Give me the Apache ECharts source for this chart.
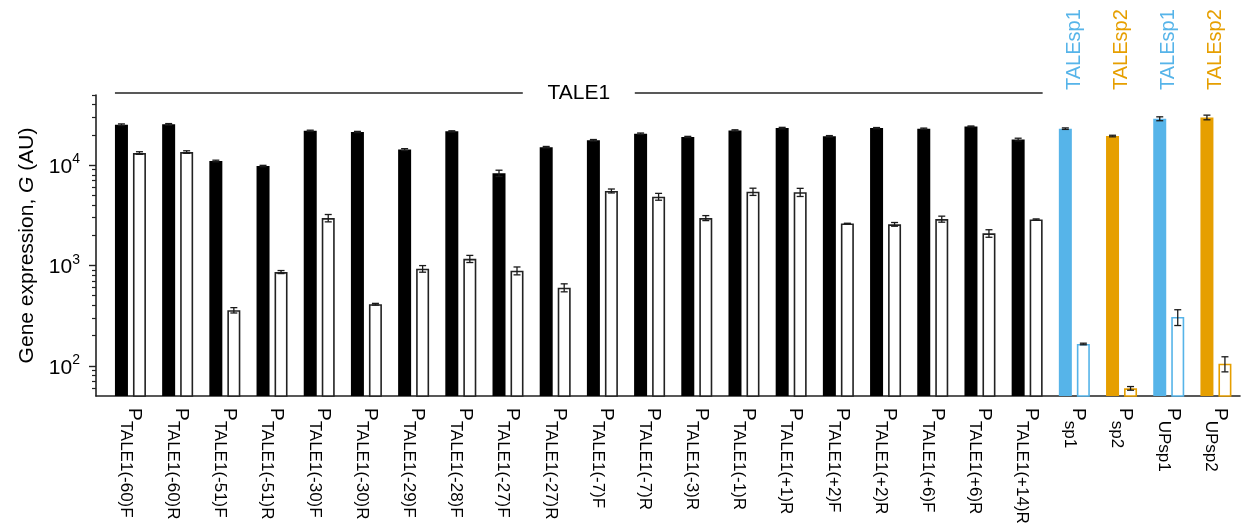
<!DOCTYPE html>
<html>
<head>
<meta charset="utf-8">
<script src="https://cdn.jsdelivr.net/npm/echarts@6/dist/echarts.min.js"></script>
<style>
  html, body { margin: 0; padding: 0; background: #ffffff; }
  #chart { width: 1248px; height: 529px; }
</style>
</head>
<body>
<div id="chart"></div>
<script>
// Promoter names (subscript of P) along the x axis
const promoters = [
  'TALE1(-60)F', 'TALE1(-60)R', 'TALE1(-51)F', 'TALE1(-51)R', 'TALE1(-30)F',
  'TALE1(-30)R', 'TALE1(-29)F', 'TALE1(-28)F', 'TALE1(-27)F', 'TALE1(-27)R',
  'TALE1(-7)F', 'TALE1(-7)R', 'TALE1(-3)R', 'TALE1(-1)R', 'TALE1(+1)R',
  'TALE1(+2)F', 'TALE1(+2)R', 'TALE1(+6)F', 'TALE1(+6)R', 'TALE1(+14)R',
  'sp1', 'sp2', 'UPsp1', 'UPsp2'
];
// TALE activator paired with each promoter
const activators = [
  'TALE1', 'TALE1', 'TALE1', 'TALE1', 'TALE1', 'TALE1', 'TALE1', 'TALE1', 'TALE1', 'TALE1',
  'TALE1', 'TALE1', 'TALE1', 'TALE1', 'TALE1', 'TALE1', 'TALE1', 'TALE1', 'TALE1', 'TALE1',
  'TALEsp1', 'TALEsp2', 'TALEsp1', 'TALEsp2'
];
// Expression with the activator present (filled bars) and its error
const withTale = [
  25300, 25500, 11000, 9800, 22000, 21400, 14300, 21700, 8300, 15100,
  17700, 20600, 19100, 22200, 23400, 19400, 23400, 23100, 24300, 18000,
  23100, 19500, 29000, 29900
];
const withTaleErr = [
  450, 450, 200, 150, 300, 300, 300, 300, 600, 250,
  300, 300, 250, 300, 400, 300, 300, 300, 250, 550,
  400, 350, 1300, 1600
];
// Expression without the activator (open bars) and its error
const withoutTale = [
  13200, 13500, 358, 860, 2970, 411, 927, 1165, 886, 601,
  5530, 4850, 2970, 5440, 5370, 2620, 2570, 2900, 2090, 2870,
  165, 59.6, 307, 105
];
const withoutTaleErr = [
  400, 400, 22, 30, 250, 8, 70, 95, 80, 55,
  250, 380, 170, 450, 500, 15, 110, 200, 180, 40,
  3, 2.5, 55, 18
];
// Y axis ticks
const decadeTicks = [100, 1000, 10000];
const minorTicks = [60, 70, 80, 90, 200, 300, 400, 500, 600, 700, 800, 900,
  2000, 3000, 4000, 5000, 6000, 7000, 8000, 9000, 20000, 30000, 40000, 50000];

const palette = { TALE1: '#000000', TALEsp1: '#56B4E9', TALEsp2: '#E69F00' };
const outline = { TALE1: '#222222', TALEsp1: '#56B4E9', TALEsp2: '#E69F00' };
const FONT = 'Liberation Sans, Arial, Helvetica, sans-serif';
const BAR_W = 13;
const BAR_GAP = 5;
const SHIFT = (BAR_W + BAR_GAP) / 2;
const X_MIN = -0.73, X_MAX = 23.51, Y_MIN = 50, Y_MAX = 50000;

function errorBars(side) {
  return function (params, api) {
    const x = api.value(0), v = api.value(1), e = api.value(2);
    const hi = api.coord([x, v + e]);
    const lo = api.coord([x, v - e]);
    const cx = hi[0] + side * SHIFT;
    const cap = 3.5;
    const st = { stroke: '#1a1a1a', lineWidth: 1.3 };
    return {
      type: 'group',
      children: [
        { type: 'line', shape: { x1: cx, y1: hi[1], x2: cx, y2: lo[1] }, style: st },
        { type: 'line', shape: { x1: cx - cap, y1: hi[1], x2: cx + cap, y2: hi[1] }, style: st },
        { type: 'line', shape: { x1: cx - cap, y1: lo[1], x2: cx + cap, y2: lo[1] }, style: st }
      ]
    };
  };
}

const taleFirst = activators.indexOf('TALE1');
const taleLast = activators.lastIndexOf('TALE1');

const chart = echarts.init(document.getElementById('chart'), null, { renderer: 'canvas' });
chart.setOption({
  animation: false,
  backgroundColor: '#ffffff',
  textStyle: { fontFamily: FONT },
  grid: { left: 96, right: 8, top: 95, bottom: 133, containLabel: false },
  xAxis: [
    {
      type: 'value', min: X_MIN, max: X_MAX, position: 'bottom',
      axisLine: { show: true, onZero: false, lineStyle: { color: '#222', width: 1.6 } },
      axisTick: { show: false },
      splitLine: { show: false },
      axisLabel: {
        customValues: promoters.map((_, i) => i),
        rotate: -90,
        margin: 12,
        formatter: (v) => '{p|P}{s|' + promoters[Math.round(v)] + '}',
        rich: {
          p: { fontSize: 19, fontFamily: FONT, color: '#000', verticalAlign: 'top', lineHeight: 27 },
          s: { fontSize: 17, fontFamily: FONT, color: '#000', verticalAlign: 'bottom', lineHeight: 27 }
        }
      }
    },
    {
      type: 'value', min: X_MIN, max: X_MAX, position: 'top',
      axisLine: { show: false, onZero: false },
      axisTick: { show: false },
      splitLine: { show: false },
      axisLabel: {
        customValues: activators.map((a, i) => (a === 'TALE1' ? -1 : i)).filter((i) => i >= 0),
        rotate: -90,
        margin: 5,
        formatter: (v) => {
          const a = activators[Math.round(v)];
          return '{' + (a === 'TALEsp1' ? 'b' : 'o') + '|' + a + '}';
        },
        rich: {
          b: { fontSize: 20, fontFamily: FONT, color: palette.TALEsp1 },
          o: { fontSize: 20, fontFamily: FONT, color: palette.TALEsp2 }
        }
      }
    }
  ],
  yAxis: [
    {
      type: 'log', logBase: 10, min: Y_MIN, max: Y_MAX, position: 'left',
      name: '{n|Gene expression, }{i|G}{n| (AU)}',
      nameLocation: 'middle',
      nameGap: 52,
      nameTextStyle: {
        rich: {
          n: { fontSize: 21, fontFamily: FONT, color: '#000' },
          i: { fontSize: 21, fontFamily: FONT, color: '#000', fontStyle: 'italic' }
        }
      },
      axisLine: { show: true, onZero: false, lineStyle: { color: '#222', width: 1.6 } },
      axisTick: { show: true, length: 7, customValues: decadeTicks, lineStyle: { color: '#222', width: 1.4 } },
      splitLine: { show: false },
      axisLabel: {
        customValues: decadeTicks,
        margin: 16,
        formatter: (v) => '{b|10}{s|' + Math.round(Math.log10(v)) + '}',
        rich: {
          b: { fontSize: 21, fontFamily: FONT, color: '#000', verticalAlign: 'bottom', lineHeight: 25 },
          s: { fontSize: 14, fontFamily: FONT, color: '#000', verticalAlign: 'top', lineHeight: 25 }
        }
      }
    },
    {
      type: 'log', logBase: 10, min: Y_MIN, max: Y_MAX, position: 'left',
      axisLine: { show: false, onZero: false },
      axisTick: { show: true, length: 4, customValues: minorTicks, lineStyle: { color: '#222', width: 1.2 } },
      axisLabel: { show: false },
      splitLine: { show: false }
    }
  ],
  series: [
    {
      name: 'with TALE',
      type: 'bar',
      barWidth: BAR_W,
      barGap: (BAR_GAP / BAR_W * 100) + '%',
      data: withTale.map((v, i) => ({
        value: [i, v],
        itemStyle: { color: palette[activators[i]] }
      }))
    },
    {
      name: 'without TALE',
      type: 'bar',
      barWidth: BAR_W,
      barGap: (BAR_GAP / BAR_W * 100) + '%',
      data: withoutTale.map((v, i) => ({
        value: [i, v],
        itemStyle: { color: '#ffffff', borderColor: outline[activators[i]], borderWidth: 1.6 }
      }))
    },
    {
      type: 'custom', z: 5, clip: false,
      renderItem: errorBars(-1),
      data: withTale.map((v, i) => [i, v, withTaleErr[i]])
    },
    {
      type: 'custom', z: 5, clip: false,
      renderItem: errorBars(1),
      data: withoutTale.map((v, i) => [i, v, withoutTaleErr[i]])
    },
    {
      // bracket spanning the TALE1 promoters
      type: 'custom', z: 5, clip: false,
      renderItem: function (params, api) {
        const a = api.coord([api.value(0), Y_MAX]);
        const b = api.coord([api.value(1), Y_MAX]);
        const x1 = a[0] - SHIFT - BAR_W / 2;
        const x2 = b[0] + SHIFT + BAR_W / 2;
        const y = params.coordSys.y - 2;
        const mid = (x1 + x2) / 2;
        const half = 56;
        const st = { stroke: '#222', lineWidth: 1.4 };
        return {
          type: 'group',
          children: [
            { type: 'line', shape: { x1: x1, y1: y, x2: mid - half, y2: y }, style: st },
            { type: 'line', shape: { x1: mid + half, y1: y, x2: x2, y2: y }, style: st },
            { type: 'text', x: mid, y: y, style: { text: 'TALE1', fontSize: 21, fontFamily: FONT, fill: '#000', align: 'center', verticalAlign: 'middle' } }
          ]
        };
      },
      data: [[taleFirst, taleLast]]
    }
  ]
});
</script>
</body>
</html>
